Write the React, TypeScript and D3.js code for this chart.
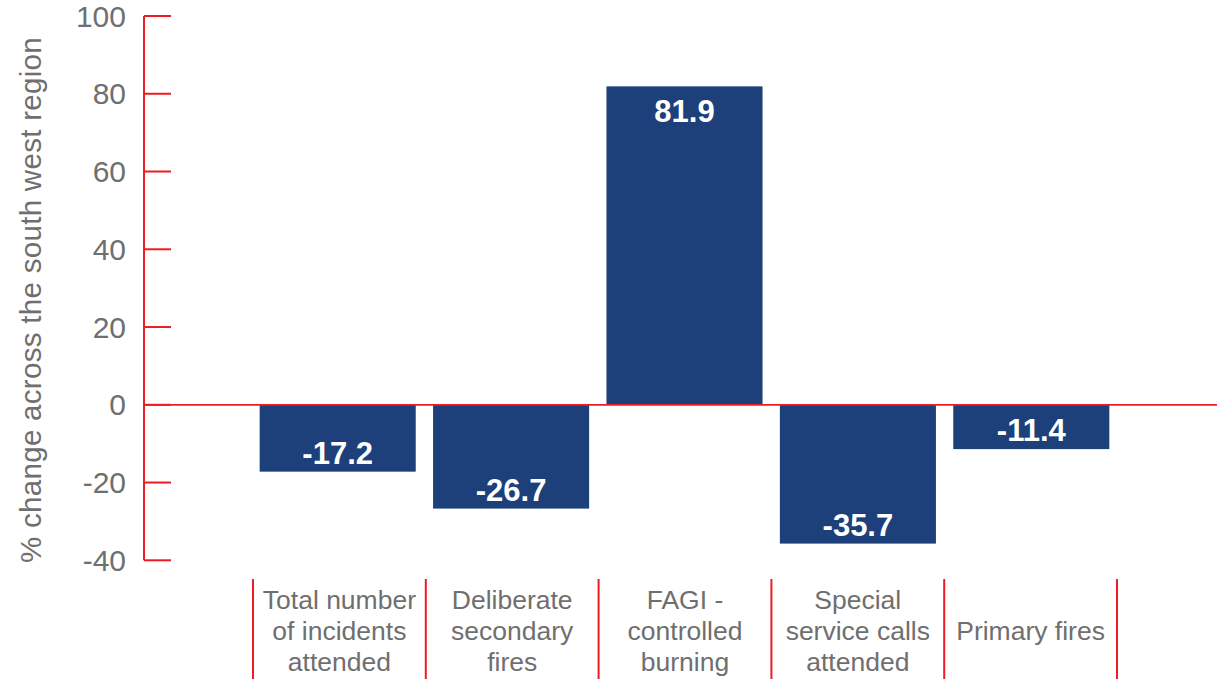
import * as d3 from "d3";
import React from "react";

const categories = [
  ["Total number", "of incidents", "attended"],
  ["Deliberate", "secondary", "fires"],
  ["FAGI -", "controlled", "burning"],
  ["Special", "service calls", "attended"],
  ["Primary fires"],
];
const values = [-17.2, -26.7, 81.9, -35.7, -11.4];
const yTicks = [100, 80, 60, 40, 20, 0, -20, -40];

const width = 1217;
const height = 679;
const red = "#ee1c25";
const navy = "#1d3f7a";
const grey = "#6f6f6f";
const font = "'Liberation Sans', Arial, sans-serif";

const keys = categories.map((c) => c.join(" "));

const y = d3.scaleLinear().domain([-40, 100]).range([560.3, 16]);
const xBar = d3
  .scaleBand()
  .domain(keys)
  .range([251, 1118])
  .paddingInner(0.1)
  .paddingOuter(0.05);
const xSep = d3.scaleBand().domain(keys).range([253, 1117]).padding(0);

const axisX = 144;

const App = () => {
  return (
    <svg
      width={width}
      height={height}
      style={{ position: "absolute", left: 0, top: 0, background: "#fff" }}
      fontFamily={font}
    >
      {/* bars */}
      {values.map((v, i) => (
        <rect
          key={keys[i]}
          x={xBar(keys[i])}
          y={y(Math.max(0, v))}
          width={xBar.bandwidth()}
          height={Math.abs(y(v) - y(0))}
          fill={navy}
        />
      ))}
      {/* value labels */}
      {values.map((v, i) => (
        <text
          key={"l" + i}
          x={xBar(keys[i])! + xBar.bandwidth() / 2}
          y={v >= 0 ? y(v) + 36 : y(v) - 8}
          textAnchor="middle"
          fill="#fff"
          fontWeight="bold"
          fontSize={31}
        >
          {v.toFixed(1)}
        </text>
      ))}
      {/* zero line */}
      <line x1={axisX} x2={width} y1={y(0)} y2={y(0)} stroke={red} strokeWidth={1.8} />
      {/* y axis */}
      <line x1={axisX} x2={axisX} y1={y(100)} y2={y(-40)} stroke={red} strokeWidth={2} />
      {yTicks.map((t) => (
        <g key={t}>
          <line x1={axisX} x2={171} y1={y(t)} y2={y(t)} stroke={red} strokeWidth={2} />
          <text x={126} y={y(t) + 10.5} textAnchor="end" fill={grey} fontSize={30}>
            {t}
          </text>
        </g>
      ))}
      <text
        transform={`translate(41, 300) rotate(-90)`}
        textAnchor="middle"
        fill={grey}
        fontSize={29.5}
        letterSpacing={0.3}
      >
        % change across the south west region
      </text>
      {/* category separators and labels */}
      {keys.map((k, i) => (
        <line
          key={"s" + i}
          x1={xSep(k)}
          x2={xSep(k)}
          y1={579}
          y2={height}
          stroke={red}
          strokeWidth={2}
        />
      ))}
      <line x1={1117} x2={1117} y1={579} y2={height} stroke={red} strokeWidth={2} />
      {categories.map((lines, i) => {
        const cx = xSep(keys[i])! + xSep.bandwidth() / 2;
        const start = 640 - ((lines.length - 1) / 2) * 31;
        return (
          <text key={"c" + i} textAnchor="middle" fill={grey} fontSize={26.5}>
            {lines.map((l, j) => (
              <tspan key={j} x={cx} y={start + j * 31}>
                {l}
              </tspan>
            ))}
          </text>
        );
      })}
    </svg>
  );
};

export default App;
